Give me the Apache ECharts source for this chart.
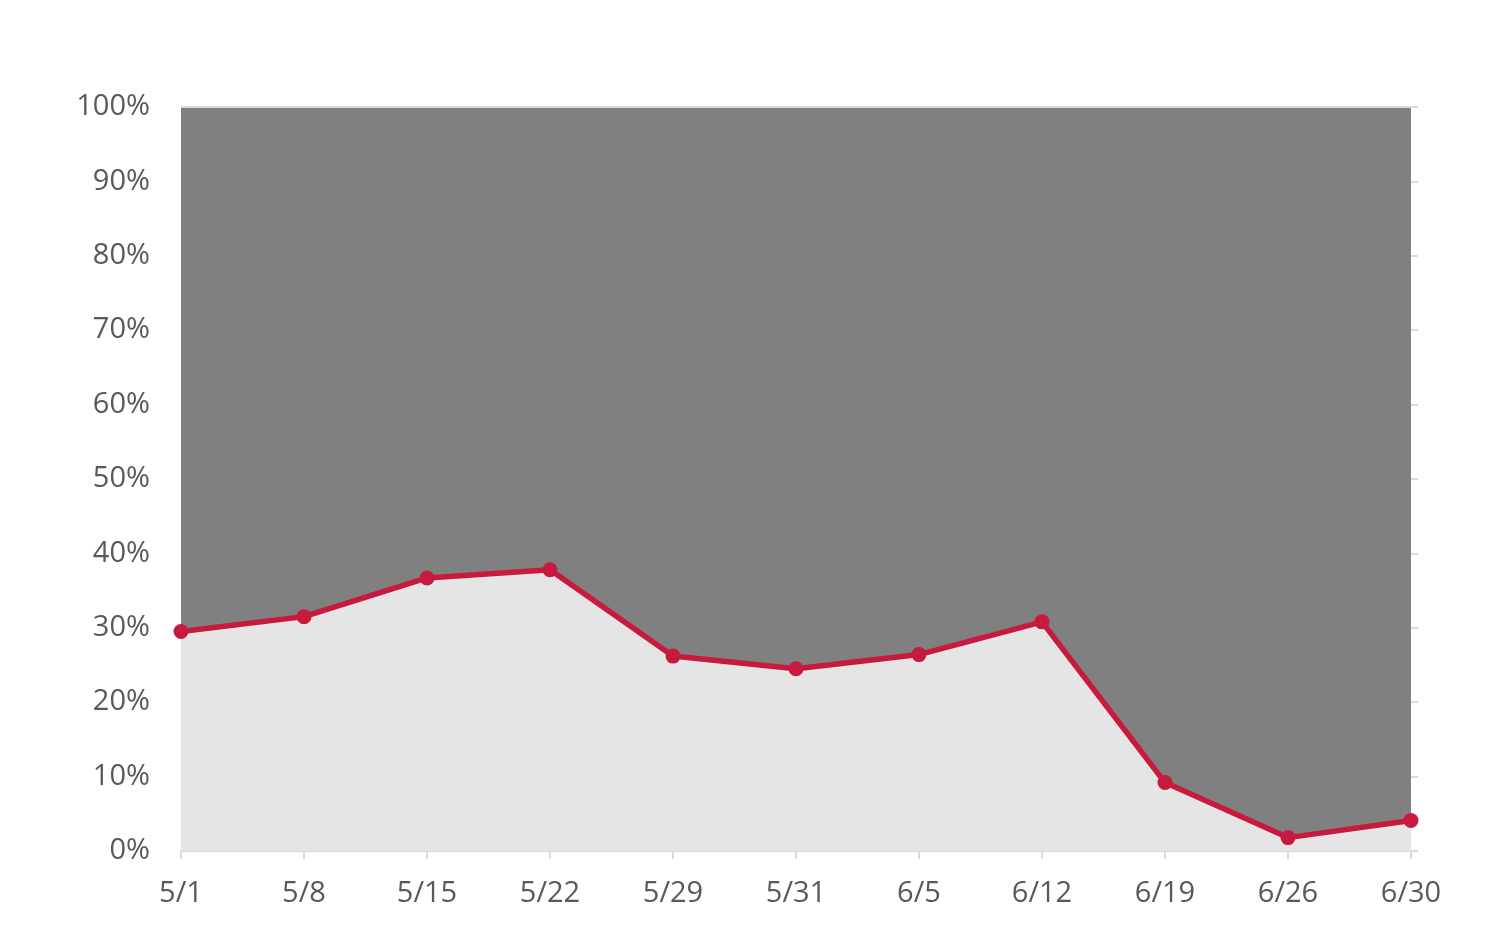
<!DOCTYPE html>
<html>
<head>
<meta charset="utf-8">
<script src="https://cdn.jsdelivr.net/npm/echarts@6/dist/echarts.min.js"></script>
<style>
  html, body { margin: 0; padding: 0; background: #fff; }
  #chart { width: 1497px; height: 941px; }
</style>
</head>
<body>
<div id="chart"></div>
<script>
const categories = ['5/1', '5/8', '5/15', '5/22', '5/29', '5/31', '6/5', '6/12', '6/19', '6/26', '6/30']
const shareValues = [29.5, 31.5, 36.7, 37.8, 26.2, 24.5, 26.4, 30.8, 9.2, 1.8, 4.1]
const yTicks = [0, 10, 20, 30, 40, 50, 60, 70, 80, 90, 100]

const chart = echarts.init(document.getElementById('chart'))

// only the top (100%) grid line is visible, right above the dark band
const splitColors = yTicks.map((t, i) => (i === yTicks.length - 1 ? '#d9d9d9' : 'rgba(0,0,0,0)'))

chart.setOption({
  animation: false,
  textStyle: { fontFamily: 'Open Sans, Noto Sans, sans-serif' },
  grid: {
    left: 181,
    right: 86,
    top: 107,
    bottom: 90,
    show: true,
    backgroundColor: '#808080',
    borderWidth: 0,
  },
  xAxis: {
    type: 'category',
    data: categories,
    boundaryGap: false,
    axisLine: { show: true, lineStyle: { color: '#d9d9d9', width: 2 } },
    axisTick: { show: true, length: 8, lineStyle: { color: '#d9d9d9', width: 2 } },
    axisLabel: { color: '#595959', fontSize: 29, margin: 28 },
  },
  yAxis: [
    {
      type: 'value',
      min: 0,
      max: 100,
      interval: 10,
      axisLine: { show: false },
      axisTick: { show: false },
      axisLabel: { color: '#595959', fontSize: 29, margin: 31, formatter: '{value}%' },
      splitLine: { show: true, lineStyle: { color: splitColors, width: 2 } },
    },
    {
      type: 'value',
      position: 'right',
      min: 0,
      max: 100,
      interval: 10,
      axisLine: { show: false },
      axisTick: { show: true, length: 7, lineStyle: { color: '#d9d9d9', width: 2 } },
      axisLabel: { show: false },
      splitLine: { show: false },
    },
  ],
  series: [{
    type: 'line',
    data: shareValues,
    symbol: 'circle',
    symbolSize: 15,
    lineStyle: { color: '#c8193f', width: 5.5 },
    itemStyle: { color: '#c8193f' },
    areaStyle: { color: '#e5e5e5', opacity: 1 },
    z: 3,
  }],
})
</script>
</body>
</html>
